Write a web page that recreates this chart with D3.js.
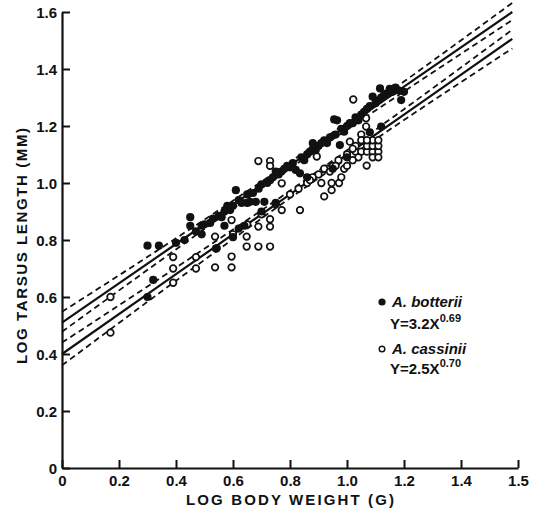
<!DOCTYPE html>
<html>
<head>
<meta charset="utf-8">
<title>Tarsus length vs body weight</title>
<script src="https://d3js.org/d3.v7.min.js"></script>
<style>
body { margin: 0; padding: 0; background: #fff; }
svg text { font-family: "Liberation Sans", Arial, sans-serif; font-weight: 700; fill: #111; }
</style>
</head>
<body>
<div id="chart"></div>
<script>

// tick labels (the last x tick is printed "1.5" in the original)
var xTicks = [0, 0.2, 0.4, 0.6, 0.8, 1.0, 1.2, 1.4, 1.6]
var xTickLabels = ["0", "0.2", "0.4", "0.6", "0.8", "1.0", "1.2", "1.4", "1.5"]
var yTicks = [0, 0.2, 0.4, 0.6, 0.8, 1.0, 1.2, 1.4, 1.6]
var yTickLabels = ["0", "0.2", "0.4", "0.6", "0.8", "1.0", "1.2", "1.4", "1.6"]

// A. botterii (filled)
var botterii = [
  [0.30,0.78],[0.34,0.78],[0.32,0.66],[0.30,0.60],[0.45,0.88],[0.45,0.85],[0.49,0.85],[0.49,0.82],
  [0.57,0.85],[0.61,0.975],[0.65,0.93],[0.64,0.85],[0.66,0.934],[0.68,0.934],[0.71,0.934],
  [0.40,0.79],[0.43,0.80],[0.47,0.83],[0.50,0.855],[0.52,0.86],[0.53,0.875],[0.55,0.885],[0.57,0.90],
  [0.59,0.905],[0.60,0.92],[0.62,0.94],[0.63,0.93],[0.65,0.96],[0.67,0.965],[0.69,0.98],[0.70,0.995],
  [0.72,1.0],[0.73,1.01],[0.74,1.02],[0.76,1.03],[0.77,1.04],[0.78,1.05],[0.80,1.055],[0.81,1.07],
  [0.82,1.046],[0.835,1.034],[0.84,1.09],[0.85,1.08],[0.86,1.10],[0.88,1.12],[0.88,1.14],[0.89,1.115],
  [0.90,1.13],[0.92,1.15],[0.93,1.14],[0.94,1.16],[0.955,1.223],[0.96,1.17],[0.965,1.22],[0.975,1.133],
  [0.98,1.19],[0.99,1.18],[1.00,1.20],[1.01,1.21],[1.02,1.21],[1.03,1.23],[1.04,1.22],[1.05,1.24],
  [1.06,1.25],[1.07,1.26],[1.08,1.178],[1.08,1.27],[1.09,1.303],[1.10,1.28],[1.11,1.29],[1.116,1.332],
  [1.12,1.198],[1.12,1.30],[1.13,1.31],[1.14,1.315],[1.15,1.33],[1.16,1.32],[1.17,1.335],[1.18,1.325],
  [1.19,1.291],[1.20,1.32],[0.56,0.88],[0.58,0.92],[0.75,1.04],[0.79,1.06],[0.87,1.11],[0.91,1.14],
  [0.62,0.84],[0.70,0.90],[0.54,0.77],[0.60,0.81],[0.95,1.05],[1.00,1.09],[0.75,0.93],[0.86,1.02]
]

// A. cassinii (open)
var cassinii = [
  [0.17,0.60],[0.17,0.475],[0.39,0.74],[0.39,0.70],[0.39,0.65],[0.47,0.74],[0.47,0.70],
  [0.537,0.812],[0.537,0.704],[0.543,0.771],[0.595,0.87],[0.595,0.742],[0.595,0.704],
  [0.648,0.812],[0.648,0.777],[0.689,0.777],[0.73,0.777],[0.689,0.847],[0.73,0.847],[0.73,0.873],
  [0.771,0.905],[0.835,0.905],[0.689,1.077],[0.73,1.077],[0.73,1.06],[0.771,0.999],[0.894,1.093],
  [1.022,1.293],[1.067,1.227],[1.067,1.198],[1.05,1.17],[1.05,1.15],[1.01,1.145],[0.92,0.953],
  [0.946,0.975],[0.946,1.0],[0.972,1.0],[1.069,1.061],
  [1.03,1.11],[1.05,1.11],[1.07,1.11],[1.09,1.11],[1.11,1.11],[1.03,1.13],[1.07,1.13],[1.09,1.13],
  [1.11,1.13],[1.09,1.15],[1.11,1.15],[1.07,1.15],[1.09,1.09],[1.11,1.09],
  [0.60,0.82],[0.65,0.855],[0.70,0.89],[0.75,0.925],[0.80,0.96],[0.83,0.98],[0.86,1.0],[0.88,1.02],
  [0.90,1.03],[0.93,1.05],[0.95,1.06],[0.97,1.08],[1.00,1.10],[1.02,1.12],[0.99,1.05],[1.04,1.09],
  [0.91,1.0],[0.87,1.01],[0.92,1.05],[0.94,1.04],[0.96,1.06],[0.98,1.02],[1.00,1.06],[1.02,1.08]
]

// regression lines and 95% bands
var fitX = [0, 0.4, 0.8, 1.2, 1.58]
var botteriiFit = [0.51, 0.786, 1.062, 1.338, 1.600]
var botteriiHi = [0.548, 0.806, 1.073, 1.356, 1.632]
var botteriiLo = [0.478, 0.767, 1.051, 1.321, 1.572]
var cassiniiFit = [0.40, 0.68, 0.96, 1.24, 1.506]
var cassiniiHi = [0.44, 0.703, 0.973, 1.259, 1.538]
var cassiniiLo = [0.36, 0.657, 0.947, 1.221, 1.472]

var margin = {top: 12, left: 62}
var size = 456

var svg = d3.select('#chart').append('svg')
    .attr('width', 536)
    .attr('height', 513)

var g = svg.append('g')
    .attr('transform', 'translate(' + margin.left + ',' + margin.top + ')')

var x = d3.scaleLinear().domain([0, 1.6]).range([0, size])
var y = d3.scaleLinear().domain([0, 1.6]).range([size, 0])

// axes
var xAxis = g.append('g')
    .attr('transform', 'translate(0,' + size + ')')
    .call(d3.axisTop(x).tickValues(xTicks).tickSize(8).tickSizeOuter(0))
xAxis.selectAll('text').remove()
xAxis.selectAll('.tick').append('text')
    .attr('y', 18)
    .attr('text-anchor', 'middle')
    .attr('font-size', 15)
    .text(function(d, i) { return xTickLabels[i] })

var yAxis = g.append('g')
    .call(d3.axisRight(y).tickValues(yTicks).tickSize(8).tickSizeOuter(0))
yAxis.selectAll('text').remove()
yAxis.selectAll('.tick').append('text')
    .attr('x', -5)
    .attr('dy', '0.36em')
    .attr('text-anchor', 'end')
    .attr('font-size', 15)
    .text(function(d, i) { return yTickLabels[i] })

g.selectAll('.domain').attr('stroke', '#111').attr('stroke-width', 2.2)
g.selectAll('.tick line').attr('stroke', '#111').attr('stroke-width', 2)

// lines
var line = d3.line()
    .x(function(d) { return x(d[0]) })
    .y(function(d) { return y(d[1]) })
    .curve(d3.curveMonotoneX)

function drawLine(vals, dashed) {
  g.append('path')
    .datum(fitX.map(function(v, i) { return [v, vals[i]] }))
    .attr('d', line)
    .attr('fill', 'none')
    .attr('stroke', '#111')
    .attr('stroke-width', dashed ? 1.8 : 2.2)
    .attr('stroke-dasharray', dashed ? '6,4' : null)
}
drawLine(botteriiHi, true)
drawLine(botteriiLo, true)
drawLine(cassiniiHi, true)
drawLine(cassiniiLo, true)
drawLine(botteriiFit, false)
drawLine(cassiniiFit, false)

// points
g.selectAll('.open').data(cassinii).enter().append('circle')
    .attr('class', 'open')
    .attr('cx', function(d) { return x(d[0]) })
    .attr('cy', function(d) { return y(d[1]) })
    .attr('r', 3.3)
    .attr('fill', '#fff')
    .attr('stroke', '#111')
    .attr('stroke-width', 1.7)

g.selectAll('.filled').data(botterii).enter().append('circle')
    .attr('class', 'filled')
    .attr('cx', function(d) { return x(d[0]) })
    .attr('cy', function(d) { return y(d[1]) })
    .attr('r', 4.1)
    .attr('fill', '#111')

// axis titles
svg.append('text')
    .attr('x', 186).attr('y', 505)
    .attr('font-size', 15)
    .attr('textLength', 208)
    .attr('lengthAdjust', 'spacing')
    .text('LOG BODY WEIGHT (G)')

svg.append('text')
    .attr('transform', 'translate(27,364) rotate(-90)')
    .attr('font-size', 15)
    .attr('textLength', 236)
    .attr('lengthAdjust', 'spacing')
    .text('LOG TARSUS LENGTH (MM)')

// legend
var legend = svg.append('g')
legend.append('circle').attr('cx', 382).attr('cy', 302).attr('r', 3.6).attr('fill', '#111')
legend.append('text').attr('x', 392).attr('y', 307).attr('font-size', 15)
    .attr('font-style', 'italic').text('A. botterii')
var eq1 = legend.append('text').attr('x', 390).attr('y', 329).attr('font-size', 15)
eq1.append('tspan').text('Y=3.2X')
eq1.append('tspan').attr('dy', -7).attr('font-size', 11).text('0.69')

legend.append('circle').attr('cx', 382).attr('cy', 349).attr('r', 2.8)
    .attr('fill', '#fff').attr('stroke', '#111').attr('stroke-width', 1.4)
legend.append('text').attr('x', 392).attr('y', 354).attr('font-size', 15)
    .attr('font-style', 'italic').text('A. cassinii')
var eq2 = legend.append('text').attr('x', 390).attr('y', 374).attr('font-size', 15)
eq2.append('tspan').text('Y=2.5X')
eq2.append('tspan').attr('dy', -7).attr('font-size', 11).text('0.70')

</script>
</body>
</html>
